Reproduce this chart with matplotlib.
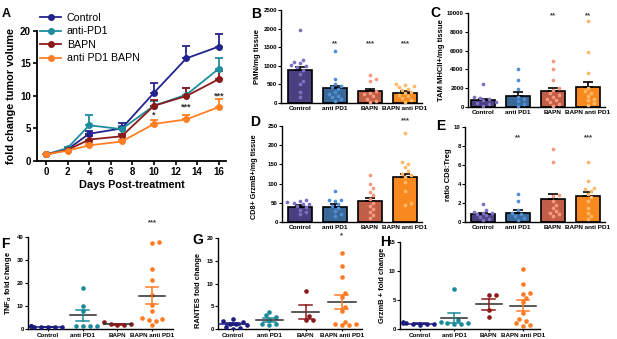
import numpy as np
import matplotlib
matplotlib.use('Agg')
import matplotlib.pyplot as plt
from matplotlib.lines import Line2D

plt.rcParams['font.family'] = ['Liberation Sans', 'DejaVu Sans']
plt.rcParams['font.weight'] = 'bold'
plt.rcParams['axes.labelweight'] = 'bold'

# ---------------- data ----------------
groups = ['Control', 'anti PD1', 'BAPN', 'BAPN anti PD1']

# panel A: tumour growth
days = [0, 2, 4, 7, 10, 13, 16]
a_labels = ['Control', 'anti-PD1', 'BAPN', 'anti PD1 BAPN']
a_control = [1.0, 1.8, 4.2, 5.0, 10.5, 15.8, 17.6]
a_control_err = [0, 0.1, 0.4, 0.8, 1.5, 1.9, 2.0]
a_antipd1 = [1.0, 2.0, 5.5, 4.9, 8.5, 10.2, 14.2]
a_antipd1_err = [0, 0.1, 1.5, 0.5, 0.8, 1.0, 1.6]
a_bapn = [1.0, 1.7, 3.3, 3.8, 8.5, 10.0, 12.6]
a_bapn_err = [0, 0.1, 0.5, 0.3, 0.9, 1.2, 1.3]
a_combo = [1.0, 1.6, 2.4, 3.0, 5.7, 6.4, 8.3]
a_combo_err = [0, 0.1, 0.3, 0.3, 0.6, 0.6, 1.3]
a_stars = [(10, 7.0, '*'), (13, 8.3, '***'), (16, 10.0, '***')]

# panel B: PMN/mg tissue
b_means = [880, 400, 310, 275]
b_sems = [100, 70, 60, 35]
b_points = [
    [1950, 1160, 1100, 1080, 1010, 1000, 960, 900, 790, 600, 500, 300, 150],
    [1400, 650, 500, 470, 420, 380, 300, 250, 200, 170, 120, 60],
    [750, 650, 600, 330, 280, 230, 180, 120, 60, 30],
    [500, 480, 450, 420, 380, 340, 300, 260, 220, 180, 130, 90, 40],
]
b_stars = ['', '**', '***', '***']

# panel C: TAM MHCII+/mg tissue
c_means = [700, 1200, 1700, 2100]
c_sems = [200, 400, 350, 600]
c_points = [
    [2500, 1100, 1000, 850, 700, 550, 400, 300, 150],
    [4000, 2900, 1900, 1050, 800, 600, 350, 150],
    [4900, 4000, 2900, 2000, 1800, 1500, 1300, 1100, 900, 700, 500, 300, 150],
    [9100, 5800, 3600, 2000, 1700, 1500, 1200, 900, 700, 400, 200],
]
c_stars = ['', '', '**', '**']

# panel D: CD8+ GrzmB+/mg tissue
d_means = [40, 40, 55, 116]
d_sems = [4, 6, 8, 10]
d_points = [
    [56, 54, 52, 50, 48, 46, 42, 38, 32, 26, 20],
    [82, 58, 57, 55, 47, 42, 36, 28, 22, 16],
    [123, 98, 88, 78, 70, 60, 50, 42, 34, 26, 18, 10],
    [233, 157, 150, 142, 132, 126, 122, 118, 105, 82, 50, 45],
]
d_stars = ['', '', '', '***']

# panel E: ratio CD8:Treg
e_means = [0.8, 1.0, 2.4, 2.7]
e_sems = [0.15, 0.3, 0.5, 0.45]
e_points = [
    [1.9, 1.3, 1.1, 1.0, 0.9, 0.8, 0.7, 0.5, 0.3, 0.2],
    [2.9, 2.2, 1.3, 1.0, 0.8, 0.6, 0.4, 0.25],
    [7.7, 6.3, 2.8, 2.7, 2.2, 1.8, 1.5, 1.2, 1.0, 0.8, 0.6],
    [6.3, 4.3, 3.6, 3.5, 3.3, 3.0, 2.6, 2.2, 1.5, 1.0, 0.6, 0.3],
]
e_stars = ['', '**', '', '***']

# panel F: TNFa fold change
f_points = [
    [1.3, 1.2, 1.1, 1.0, 1.0, 0.9, 0.8, 0.8],
    [18, 10, 8, 1.5, 1.5, 1.5, 1.5],
    [3.0, 2.1, 2.0, 1.8, 1.8],
    [37.7, 37.2, 26, 21.4, 15, 10.6, 8, 4.8, 4.3, 3.8, 3.5, 1.9],
]
f_stars = ['', '', '', '***']

# panel G: RANTES fold change
g_points = [
    [2.2, 1.8, 1.5, 1.2, 1.0, 0.8, 0.5, 0.3, 0.1],
    [3.8, 3.0, 2.6, 2.0, 1.0, 1.0, 0.9],
    [8.3, 2.8, 2.0, 2.0],
    [16.7, 13.9, 11.4, 8.0, 7.0, 4.8, 4.0, 1.5, 1.2, 1.0, 0.8, 0.8],
]
g_stars = ['', '', '', '*']

# panel H: GrzmB + fold change
h_points = [
    [1.2, 1.0, 0.95, 0.9, 0.85, 0.8, 0.75],
    [6.9, 1.5, 1.2, 1.1, 1.0, 0.9, 0.8],
    [5.9, 5.8, 3.3, 2.0],
    [10.3, 7.7, 6.2, 6.0, 5.3, 4.7, 2.8, 1.8, 1.3, 1.1, 0.7, 0.6],
]
h_stars = ['', '', '', '']

line_cols = ['#23238e', '#1d8e9e', '#8b1a1a', '#ff7f27']
bar_fill = ['#4a4080', '#3a6898', '#c05e48', '#f7891f']
bar_pts = ['#7c70c2', '#4f8fd6', '#f79a80', '#ffb866']
dot_cols = ['#1c1c80', '#1b8a99', '#8b1a1a', '#ff7b22']

W, H = 617, 339
fig = plt.figure(figsize=(W / 100, H / 100), dpi=100)


def add_ax(x0, x1, ytop, ybot):
    return fig.add_axes([x0 / W, 1 - ybot / H, (x1 - x0) / W, (ybot - ytop) / H])


def style(ax, lw=1.0):
    for s in ['top', 'right']:
        ax.spines[s].set_visible(False)
    for s in ['left', 'bottom']:
        ax.spines[s].set_linewidth(lw)


def swarm(vals, ppx, ppy, d):
    # simple beeswarm: offsets in x units so dots don't overlap
    vals = np.asarray(vals, float)
    offs = np.zeros(len(vals))
    placed = []
    for i in np.argsort(vals):
        y = vals[i] * ppy
        for k in [0, 1, -1, 2, -2, 3, -3, 4, -4, 5, -5]:
            x = k * d * 0.75
            if all((x - px) ** 2 + (y - py) ** 2 >= d * d for px, py in placed):
                break
        placed.append((x, y))
        offs[i] = x / ppx
    return offs


# ---------------- panel A ----------------
axA = add_ax(37, 226, 31, 161)
ppd = 10.8
axA.set_xlim((37 - 46) / ppd, (226 - 46) / ppd)
axA.set_ylim(0, 20)
series = [(a_control, a_control_err), (a_antipd1, a_antipd1_err),
          (a_bapn, a_bapn_err), (a_combo, a_combo_err)]
for (vals, err), col in zip(series, line_cols):
    axA.errorbar(days, vals, yerr=[np.zeros(len(err)), err], color=col, lw=1.3,
                 marker='o', ms=4, capsize=3, capthick=1.3, elinewidth=1.3)
for x, y, s in a_stars:
    axA.text(x, y, s, ha='center', va='center', fontsize=6.5, color='#333333')
axA.set_xticks(range(0, 17, 2))
axA.set_yticks(range(0, 21, 5))
style(axA, 1.3)
axA.tick_params(labelsize=7, length=3, width=1.2, pad=1.5)
axA.set_xlabel('Days Post-treatment', fontsize=7.8, labelpad=2)
axA.set_ylabel('fold change tumor volume', fontsize=7.8, labelpad=3)
handles = [Line2D([], [], color=c, marker='o', ms=4, lw=1.3) for c in line_cols]
fig.legend(handles, a_labels, loc='upper left', bbox_to_anchor=(40 / W, 1 - 13 / H),
           frameon=False, prop={'size': 7.7, 'weight': 'normal'}, handlelength=2.0,
           labelspacing=0.32, handletextpad=0.5, borderpad=0, borderaxespad=0)
fig.text(2 / W, 1 - 8 / H, 'A', fontsize=9, va='top', ha='left')


# ---------------- bar panels ----------------
def bar_panel(x0, c0, x1, ytop, ybot, ymax, yticks, means, sems, points, stars, star_y,
              ylabel, letter, lx, ly, lab_fs=5.5):
    ax = add_ax(x0, x1, ytop, ybot)
    ax.set_xlim((x0 - c0) / 35, (x1 - c0) / 35)
    ax.set_ylim(0, ymax)
    ppy = (ybot - ytop) / ymax
    idx = np.arange(4)
    ax.bar(idx, means, width=0.7, color=bar_fill, edgecolor='black', linewidth=1.2, zorder=2)
    ax.errorbar(idx, means, yerr=[np.zeros(4), sems], fmt='none', ecolor='black',
                elinewidth=1.2, capsize=3.5, capthick=1.2, zorder=3)
    for i, pts in enumerate(points):
        offs = swarm(pts, 35, ppy, 4.2)
        ax.scatter(i + offs, pts, s=7, color=bar_pts[i], zorder=4, linewidths=0)
        if stars[i]:
            ax.text(i, star_y, stars[i], ha='center', va='center', fontsize=5.5, color='#333333')
    ax.set_xticks(idx)
    ax.set_xticklabels(groups)
    ax.set_yticks(yticks)
    style(ax, 1.0)
    ax.tick_params(axis='x', labelsize=4.6, length=0, pad=2)
    ax.tick_params(axis='y', labelsize=4.4, length=2, width=0.8, pad=1)
    ax.set_ylabel(ylabel, fontsize=lab_fs, labelpad=1.5)
    fig.text(lx / W, 1 - ly / H, letter, fontsize=10, va='top', ha='left')
    return ax


bar_panel(281, 300, 422, 10, 103, 2500, [0, 500, 1000, 1500, 2000, 2500],
          b_means, b_sems, b_points, b_stars, 1600, 'PMN/mg tissue', 'B', 251, 7)
bar_panel(468, 483, 605, 13, 107, 10000, [0, 2000, 4000, 6000, 8000, 10000],
          c_means, c_sems, c_points, c_stars, 9750, 'TAM MHCII+/mg tissue', 'C', 430, 6)
axD = bar_panel(282, 300, 422, 126, 222, 250, [0, 50, 100, 150, 200, 250],
                d_means, d_sems, d_points, d_stars, 265, 'CD8+ GrzmB+/mg tissue', 'D', 250, 115,
                lab_fs=5.2)
axD.yaxis.set_label_coords(-0.17, 0.47)
bar_panel(465, 483, 605, 127, 222, 10, [0, 2, 4, 6, 8, 10],
          e_means, e_sems, e_points, e_stars, 8.9, 'ratio CD8:Treg', 'E', 436, 119)


# ---------------- dot panels ----------------
def dot_panel(x0, c0, sp, x1, ytop, ybot, ymax, yticks, points, stars, star_y,
              ylabel, letter, lx, ly, lab_y=0.5):
    ax = add_ax(x0, x1, ytop, ybot)
    ax.set_xlim((x0 - c0) / sp, (x1 - c0) / sp)
    ax.set_ylim(0, ymax)
    ppy = (ybot - ytop) / ymax
    for i, pts in enumerate(points):
        pts = np.asarray(pts, float)
        offs = swarm(pts, sp, ppy, 4.6)
        ax.scatter(i + offs, pts, s=11, color=dot_cols[i], zorder=3, linewidths=0)
        m = pts.mean()
        se = pts.std(ddof=1) / np.sqrt(len(pts))
        ax.plot([i - 0.38, i + 0.38], [m, m], color='#2b2b2b' if i else dot_cols[i],
                lw=1.1, zorder=4)
        ax.plot([i, i], [m - se, m + se], color=dot_cols[i], lw=1.1, zorder=4)
        for yy in (m - se, m + se):
            ax.plot([i - 0.18, i + 0.18], [yy, yy], color=dot_cols[i], lw=1.1, zorder=4)
        if stars[i]:
            ax.text(i, star_y, stars[i], ha='center', va='center', fontsize=5.5, color='#333333')
    ax.set_xticks(range(4))
    ax.set_xticklabels(groups)
    ax.set_yticks(yticks)
    style(ax, 1.0)
    ax.tick_params(axis='x', labelsize=4.5, length=1.5, width=0.8, pad=1.5)
    ax.tick_params(axis='y', labelsize=4.4, length=2, width=0.8, pad=1)
    ax.set_ylabel(ylabel, fontsize=5.4, labelpad=2)
    if lab_y != 0.5:
        lbl = ax.yaxis.label
        ax.yaxis.set_label_coords(-0.11, lab_y)
        lbl.set_va('bottom')
    fig.text(lx / W, 1 - ly / H, letter, fontsize=10, va='top', ha='left')
    return ax


dot_panel(28, 48, 34.7, 173, 237, 329, 40, [0, 10, 20, 30, 40], f_points, f_stars, 46,
          r'TNF$\mathregular{_{\alpha}}$ fold change', 'F', 1, 237)
dot_panel(218, 233, 36.3, 362, 238, 329, 20, [0, 5, 10, 15, 20], g_points, g_stars, 20.4,
          'RANTES fold change', 'G', 192, 233, lab_y=0.42)
dot_panel(400, 420, 34.3, 540, 242, 329, 15, [0, 5, 10, 15], h_points, h_stars, 16,
          'GrzmB + fold change', 'H', 380, 235)

fig.savefig('out.png', dpi=100)
